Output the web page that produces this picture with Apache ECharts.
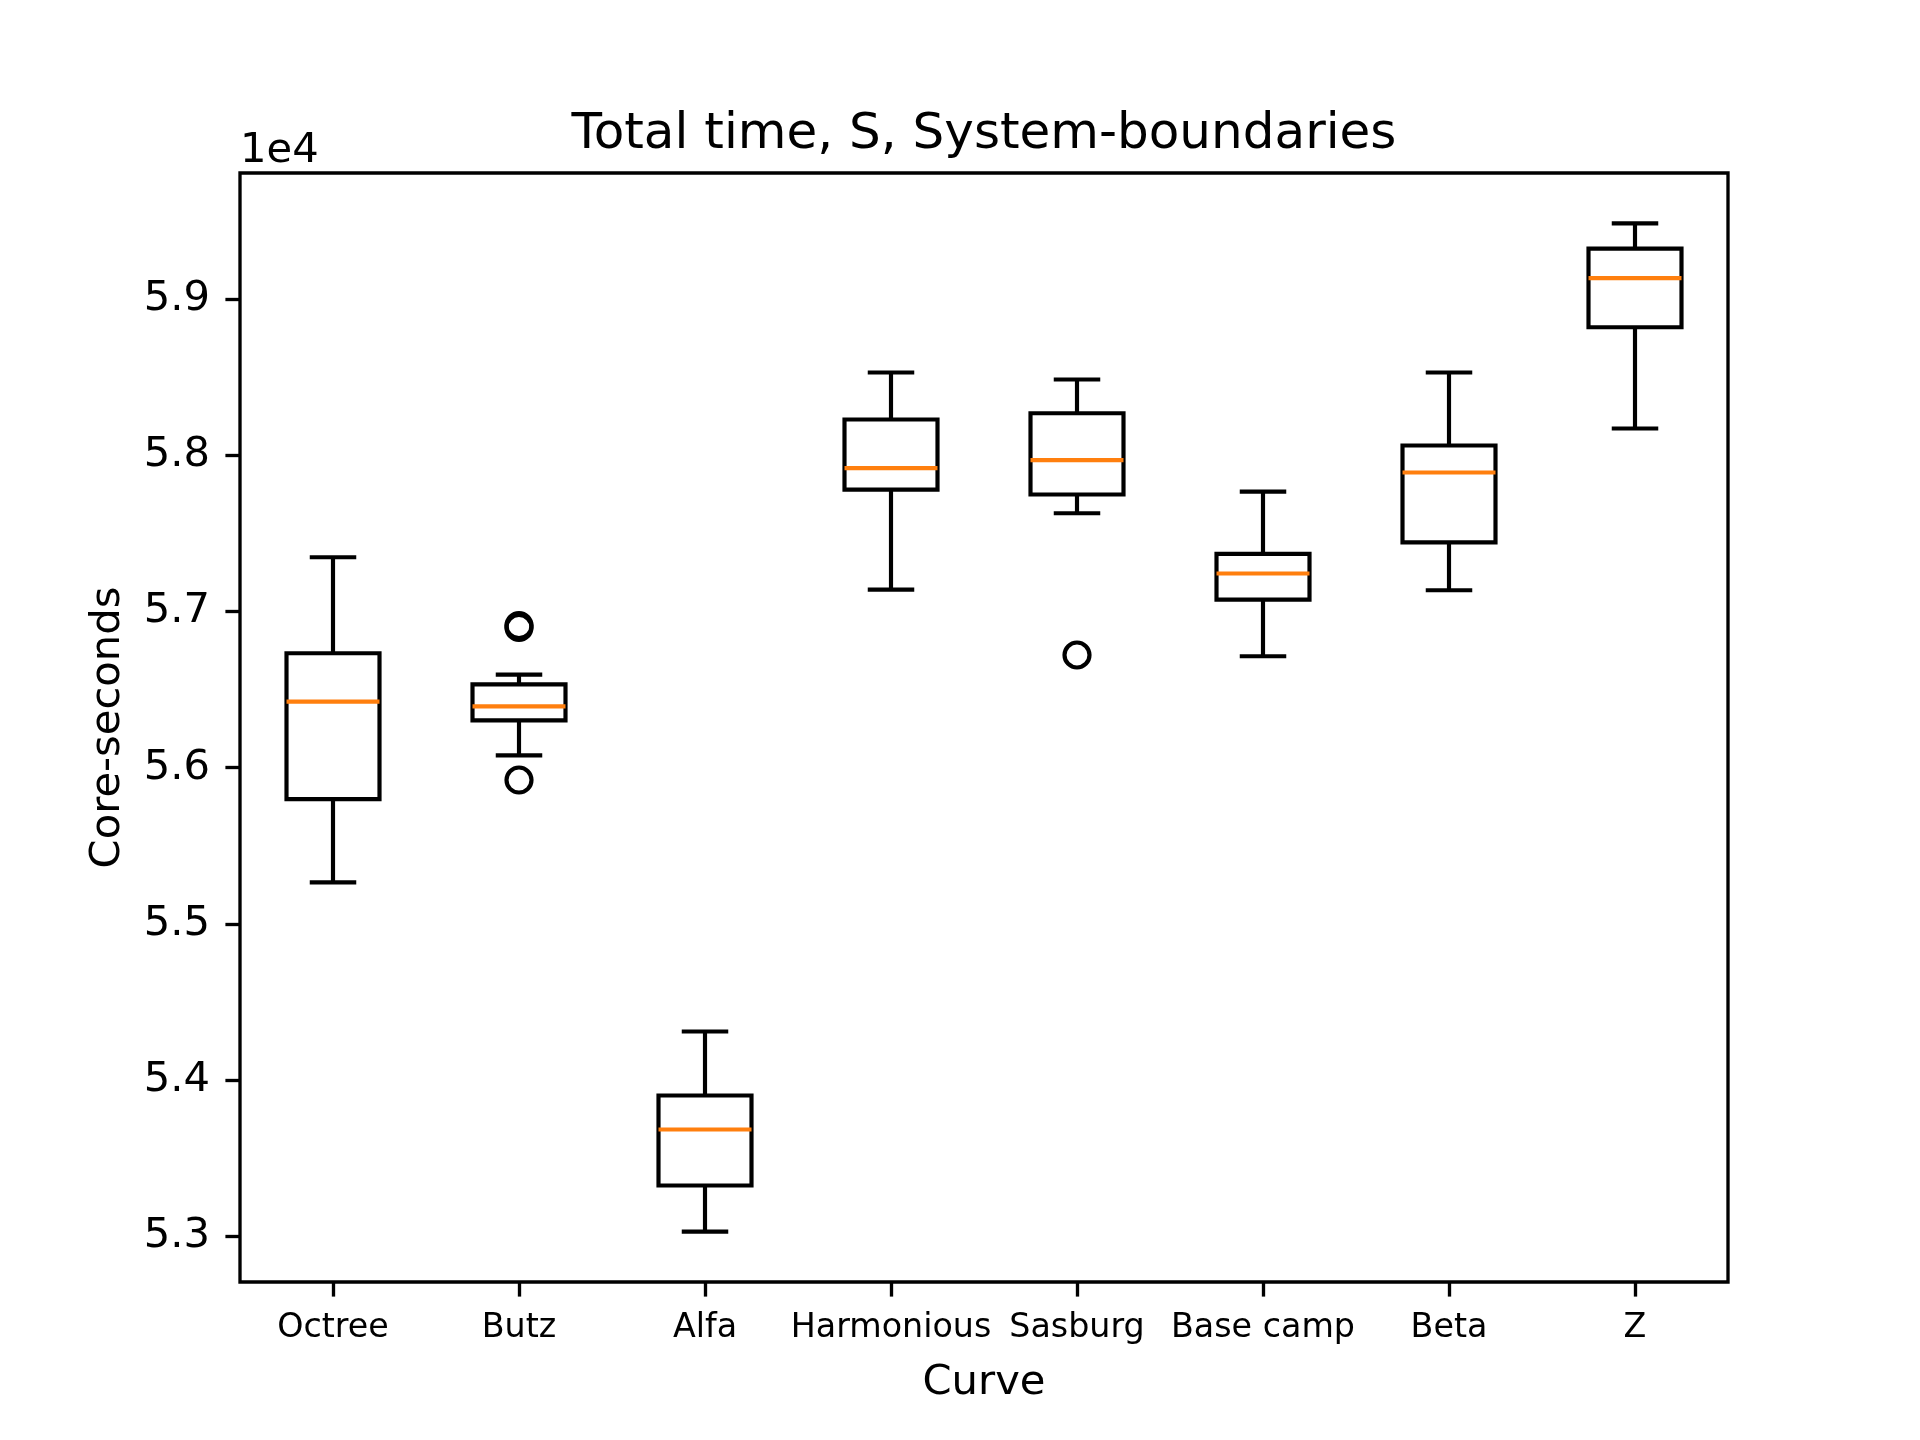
<!DOCTYPE html>
<html>
<head>
<meta charset="utf-8">
<title>Total time, S, System-boundaries</title>
<script src="https://cdn.jsdelivr.net/npm/echarts@6/dist/echarts.min.js"></script>
<style>
  html, body { margin: 0; padding: 0; background: #fff; }
  #chart { width: 1920px; height: 1440px; }
</style>
</head>
<body>
<div id="chart"></div>
<script>
// values (core-seconds)
const categories = ['Octree', 'Butz', 'Alfa', 'Harmonious', 'Sasburg', 'Base camp', 'Beta', 'Z'];
const whiskerLow = [55265, 56079, 53028, 57141, 57630, 56714, 57137, 58173];
const q1 = [55799, 56303, 53323, 57782, 57750, 57077, 57444, 58822];
const median = [56423, 56393, 53682, 57919, 57970, 57244, 57891, 59137];
const q3 = [56733, 56534, 53900, 58231, 58271, 57370, 58064, 59325];
const whiskerHigh = [57348, 56596, 54310, 58532, 58487, 57769, 58532, 59487];
// [category index, value]
const outliers = [[1, 56898], [1, 56910], [1, 55921], [4, 56722]];
const yTicks = [53000, 54000, 55000, 56000, 57000, 58000, 59000];

const FONT = 'DejaVu Sans';
const LW = 4.17;      // 1pt at 300 dpi
const SPINE = 3.33;   // 0.8pt at 300 dpi

let chart = echarts.init(document.getElementById('chart'), null, { renderer: 'canvas' });

let boxData = categories.map(function (c, i) {
    return [i, whiskerLow[i], q1[i], median[i], q3[i], whiskerHigh[i]];
});

function renderBox(params, api) {
    let i = api.value(0);
    let lo = api.coord([i, api.value(1)]);
    let b1 = api.coord([i, api.value(2)]);
    let md = api.coord([i, api.value(3)]);
    let b3 = api.coord([i, api.value(4)]);
    let hi = api.coord([i, api.value(5)]);
    let band = api.size([1, 0])[0];
    let half = band * 0.25;
    let cap = band * 0.125;
    let cx = md[0];
    let ls = { stroke: '#000', lineWidth: LW, fill: null };
    return {
        type: 'group',
        children: [
            { type: 'line', shape: { x1: cx, y1: b1[1], x2: cx, y2: lo[1] }, style: ls },
            { type: 'line', shape: { x1: cx, y1: b3[1], x2: cx, y2: hi[1] }, style: ls },
            { type: 'line', shape: { x1: cx - cap, y1: lo[1], x2: cx + cap, y2: lo[1] }, style: ls },
            { type: 'line', shape: { x1: cx - cap, y1: hi[1], x2: cx + cap, y2: hi[1] }, style: ls },
            {
                type: 'rect',
                shape: { x: cx - half, y: b3[1], width: half * 2, height: b1[1] - b3[1] },
                style: { stroke: '#000', lineWidth: LW, fill: 'none' }
            },
            {
                type: 'line',
                shape: { x1: cx - half, y1: md[1], x2: cx + half, y2: md[1] },
                style: { stroke: '#ff7f0e', lineWidth: LW }
            }
        ]
    };
}

let option = {
    animation: false,
    backgroundColor: '#fff',
    textStyle: { fontFamily: FONT },
    grid: {
        left: 240, right: 192, top: 173, bottom: 158,
        show: true, borderColor: '#000', borderWidth: SPINE,
        backgroundColor: 'transparent',
        containLabel: false, outerBoundsMode: 'none'
    },
    graphic: [
        {
            type: 'text', x: 984, y: 135,
            style: {
                text: 'Total time, S, System-boundaries', fill: '#000',
                font: '50px "DejaVu Sans"', textAlign: 'center', textVerticalAlign: 'middle'
            }
        },
        {
            type: 'text', x: 240, y: 151,
            style: {
                text: '1e4', fill: '#000',
                font: '41.7px "DejaVu Sans"', textAlign: 'left', textVerticalAlign: 'middle'
            }
        }
    ],
    xAxis: {
        type: 'category',
        data: categories,
        boundaryGap: true,
        name: 'Curve',
        nameLocation: 'middle',
        nameGap: 80,
        nameTextStyle: { fontFamily: FONT, fontSize: 41.7, color: '#000' },
        axisLine: { show: false },
        axisTick: { show: true, alignWithLabel: true, length: 14.6, lineStyle: { color: '#000', width: SPINE } },
        axisLabel: { fontFamily: FONT, fontSize: 33.3, color: '#000', margin: 30, interval: 0 },
        splitLine: { show: false }
    },
    yAxis: {
        type: 'value',
        min: 52705,
        max: 59810,
        name: 'Core-seconds',
        nameLocation: 'middle',
        nameRotate: 90,
        nameGap: 111,
        nameTextStyle: { fontFamily: FONT, fontSize: 41.7, color: '#000' },
        axisLine: { show: false },
        axisTick: { show: true, length: 14.6, customValues: yTicks, lineStyle: { color: '#000', width: SPINE } },
        axisLabel: {
            fontFamily: FONT, fontSize: 41.7, color: '#000', margin: 30,
            customValues: yTicks,
            formatter: function (v) { return (v / 10000).toFixed(1); }
        },
        splitLine: { show: false }
    },
    series: [
        {
            type: 'custom',
            renderItem: renderBox,
            data: boxData,
            encode: { x: 0, y: [1, 2, 3, 4, 5] },
            clip: false
        },
        {
            type: 'scatter',
            data: outliers,
            symbol: 'circle',
            symbolSize: 25,
            itemStyle: { color: 'rgba(0,0,0,0)', borderColor: '#000', borderWidth: LW, opacity: 1 }
        }
    ]
};

chart.setOption(option);
</script>
</body>
</html>
